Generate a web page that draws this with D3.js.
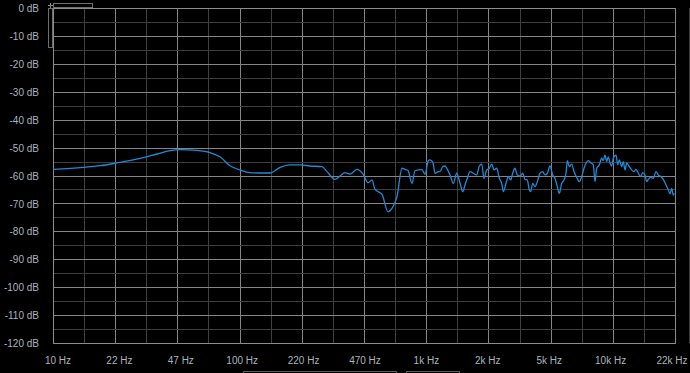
<!DOCTYPE html>
<html>
<head>
<meta charset="utf-8">
<script src="https://cdn.jsdelivr.net/npm/d3@7"></script>
<style>
  html, body { margin: 0; padding: 0; background: #000; }
  svg { display: block; }
  text { font-family: "Liberation Sans", Arial, sans-serif; font-size: 10px; fill: #aab3bd; }
</style>
</head>
<body>
<svg id="chart" width="690" height="373"></svg>
<script>
// frequency response (Hz / dB)
const freqs = [
  10, 14.5, 17.9, 22.0, 29.3, 36.1, 42.4, 47.9, 59.1, 69.4, 78.5, 88.8, 100.5, 113.7, 128.6,
  145.5, 164.7, 186.3, 210.8, 238.4, 276.4, 294.1, 324.6, 345.2, 367.2, 390.5, 425.8, 458.5,
  487.6, 512.3, 531.7, 579.7, 624.2, 655.7, 697.4, 741.8, 769.8, 798.8, 839.2, 871, 949.5,
  985.4, 1026, 1048, 1087, 1115, 1161,
  1186, 1226, 1261, 1298, 1342, 1397, 1457, 1518, 1569, 1614, 1661, 1717, 1789, 1865, 1926,
  1984, 2041, 2110, 2179, 2244, 2309, 2387, 2465, 2539, 2590, 2677, 2754, 2837, 2908, 2992,
  3078, 3182, 3290, 3384, 3482, 3569, 3631, 3721, 3829, 3939, 4072, 4210, 4331, 4456, 4607,
  4763, 4900, 5041, 5167, 5322, 5476, 5613, 5703, 5846, 6022, 6195, 6405, 6614, 6813, 7009,
  7184, 7391, 7613, 7861, 8028, 8198, 8465, 8720, 8894, 9082, 9275, 9460, 9660, 9865, 10062,
  10403, 10623, 10835, 11160, 11383, 11624, 11870, 12257, 12626, 12990, 13314, 13697, 14109,
  14463, 14879, 15194, 15497, 15963, 16484, 17043, 17534, 18061, 18650, 19282, 19838, 20258,
  20687, 21100, 21362
];
const levels = [
  -57.8, -57.1, -56.5, -55.5, -53.9, -52.3, -51.1, -50.7, -51.0, -51.8, -53.3, -56.5, -58.0, -59.0, -59.1,
  -59.1, -57.1, -56.2, -56.2, -56.6, -56.8, -58.6, -61.4, -60.2, -59.0, -59.5, -57.8, -59.5,
  -62.6, -61.6, -65.0, -66.8, -73.0, -71.8, -67.6, -57.4, -57.8, -58.2, -62.8, -58.3, -57.9,
  -59.6, -54.7, -54.4, -55.4, -59.2, -58.6,
  -58.6, -56.8, -56.6, -57.8, -59.8, -62.8, -59.2, -62.8, -65.8, -63.4, -61.0, -58.6, -59.2, -59.8, -56.6,
  -55.9, -61.0, -58.0, -57.4, -55.9, -58.0, -57.4, -61.0, -62.8, -65.8, -62.8, -60.4, -61.6, -59.2, -57.4,
  -59.8, -60.2, -59.2, -61.4, -61.6, -65.2, -65.8, -62.8, -64.0, -62.2, -59.2, -58.6, -59.8, -59.2, -56.6,
  -59.8, -61.0, -64.0, -66.4, -62.8, -61.6, -59.2, -54.7, -56.8, -55.9, -58.6, -60.7, -62.2, -60.4, -57.4,
  -55.6, -54.7, -55.4, -56.2, -62.2, -57.4, -56.2, -53.8, -54.7, -52.7, -55.0, -53.3, -55.6, -56.6, -53.8,
  -52.7, -56.2, -54.4, -56.8, -55.0, -58.0, -55.6, -56.8, -58.0, -58.6, -57.8, -59.2, -60.4,
  -59.0, -59.8, -62.2, -61.4, -60.7, -61.0, -58.6, -59.8, -60.4, -61.4, -63.4, -65.2, -66.6,
  -64.6, -67.0, -66.4
];

const xTickLabels = ["10 Hz", "22 Hz", "47 Hz", "100 Hz", "220 Hz", "470 Hz", "1k Hz", "2k Hz", "5k Hz", "10k Hz", "22k Hz"];
const dbTicks = [0, -10, -20, -30, -40, -50, -60, -70, -80, -90, -100, -110, -120];

const fMin = 10, fMax = 10 * Math.pow(10, 10 / 3);

let svg = d3.select("#chart");
let margin = { top: 8, right: 15, bottom: 30, left: 53 };
let width = 690 - margin.left - margin.right;
let height = 373 - margin.top - margin.bottom;

let g = svg.append("g")
    .attr("transform", "translate(" + margin.left + "," + margin.top + ")");

let x = d3.scaleLog().domain([fMin, fMax]).range([0, width]);
let y = d3.scaleLinear().domain([-120, 0]).range([height, 0]);

// grid lines, every 1/6 decade and every 5 dB
let vGrid = d3.range(0, 21).map(k => fMin * Math.pow(10, k / 6));
let hGrid = d3.range(0, 25).map(k => -5 * k);

g.selectAll(".vgrid")
    .data(vGrid)
    .enter().append("line")
    .attr("x1", d => Math.round(x(d)) + 0.5)
    .attr("x2", d => Math.round(x(d)) + 0.5)
    .attr("y1", 0)
    .attr("y2", height)
    .attr("stroke", (d, i) => i % 2 == 0 ? "#858585" : "#3e3e3e")
    .attr("stroke-width", 1);

g.selectAll(".hgrid")
    .data(hGrid)
    .enter().append("line")
    .attr("x1", 0)
    .attr("x2", width)
    .attr("y1", d => Math.round(y(d)) + 0.5)
    .attr("y2", d => Math.round(y(d)) + 0.5)
    .attr("stroke", d => d % 10 == 0 ? "#858585" : "#3e3e3e")
    .attr("stroke-width", 1);

// frame
g.append("rect")
    .attr("x", 0.5).attr("y", 0.5)
    .attr("width", width).attr("height", height)
    .attr("fill", "none")
    .attr("stroke", "#8c8c8c");

// y labels
g.selectAll(".ylab")
    .data(dbTicks)
    .enter().append("text")
    .attr("x", -14)
    .attr("y", d => y(d) + 1.5)
    .attr("text-anchor", "end")
    .attr("dominant-baseline", "middle")
    .text(d => d + " dB");

// x labels sit a little inside the grid lines
let xl = d3.scaleLinear().domain([0, xTickLabels.length - 1]).range([5, width - 3]);
g.selectAll(".xlab")
    .data(xTickLabels)
    .enter().append("text")
    .attr("x", (d, i) => xl(i))
    .attr("y", height + 18)
    .attr("text-anchor", "middle")
    .attr("dominant-baseline", "middle")
    .text(d => d);

// response curve
let pts = freqs.map((f, i) => [f, levels[i]]);
let line = d3.line()
    .x(d => x(d[0]))
    .y(d => y(d[1]))
    .curve(d3.curveMonotoneX);

g.append("path")
    .datum(pts)
    .attr("fill", "none")
    .attr("stroke", "#1f8ad8")
    .attr("stroke-width", 1.3)
    .attr("stroke-linejoin", "round")
    .attr("d", line);

// zoom handles / scroll boxes around the plot
svg.append("rect")
    .attr("x", 53.5).attr("y", 3.5).attr("width", 39).attr("height", 4)
    .attr("fill", "none").attr("stroke", "#6e6e6e");
svg.append("rect")
    .attr("x", 48.5).attr("y", 8.5).attr("width", 4).attr("height", 39)
    .attr("fill", "none").attr("stroke", "#6e6e6e");
svg.append("path")
    .attr("d", "M48,5.5H53M50.5,3V8")
    .attr("stroke", "#8a8a8a").attr("fill", "none");
svg.append("rect")
    .attr("x", 243.5).attr("y", 371.5).attr("width", 153).attr("height", 10)
    .attr("fill", "none").attr("stroke", "#5a5a5a");
svg.append("rect")
    .attr("x", 406.5).attr("y", 371.5).attr("width", 53).attr("height", 10)
    .attr("fill", "none").attr("stroke", "#5a5a5a");
svg.append("line")
    .attr("x1", 689.5).attr("x2", 689.5).attr("y1", 8).attr("y2", 343)
    .attr("stroke", "#3a3a3a");
</script>
</body>
</html>
